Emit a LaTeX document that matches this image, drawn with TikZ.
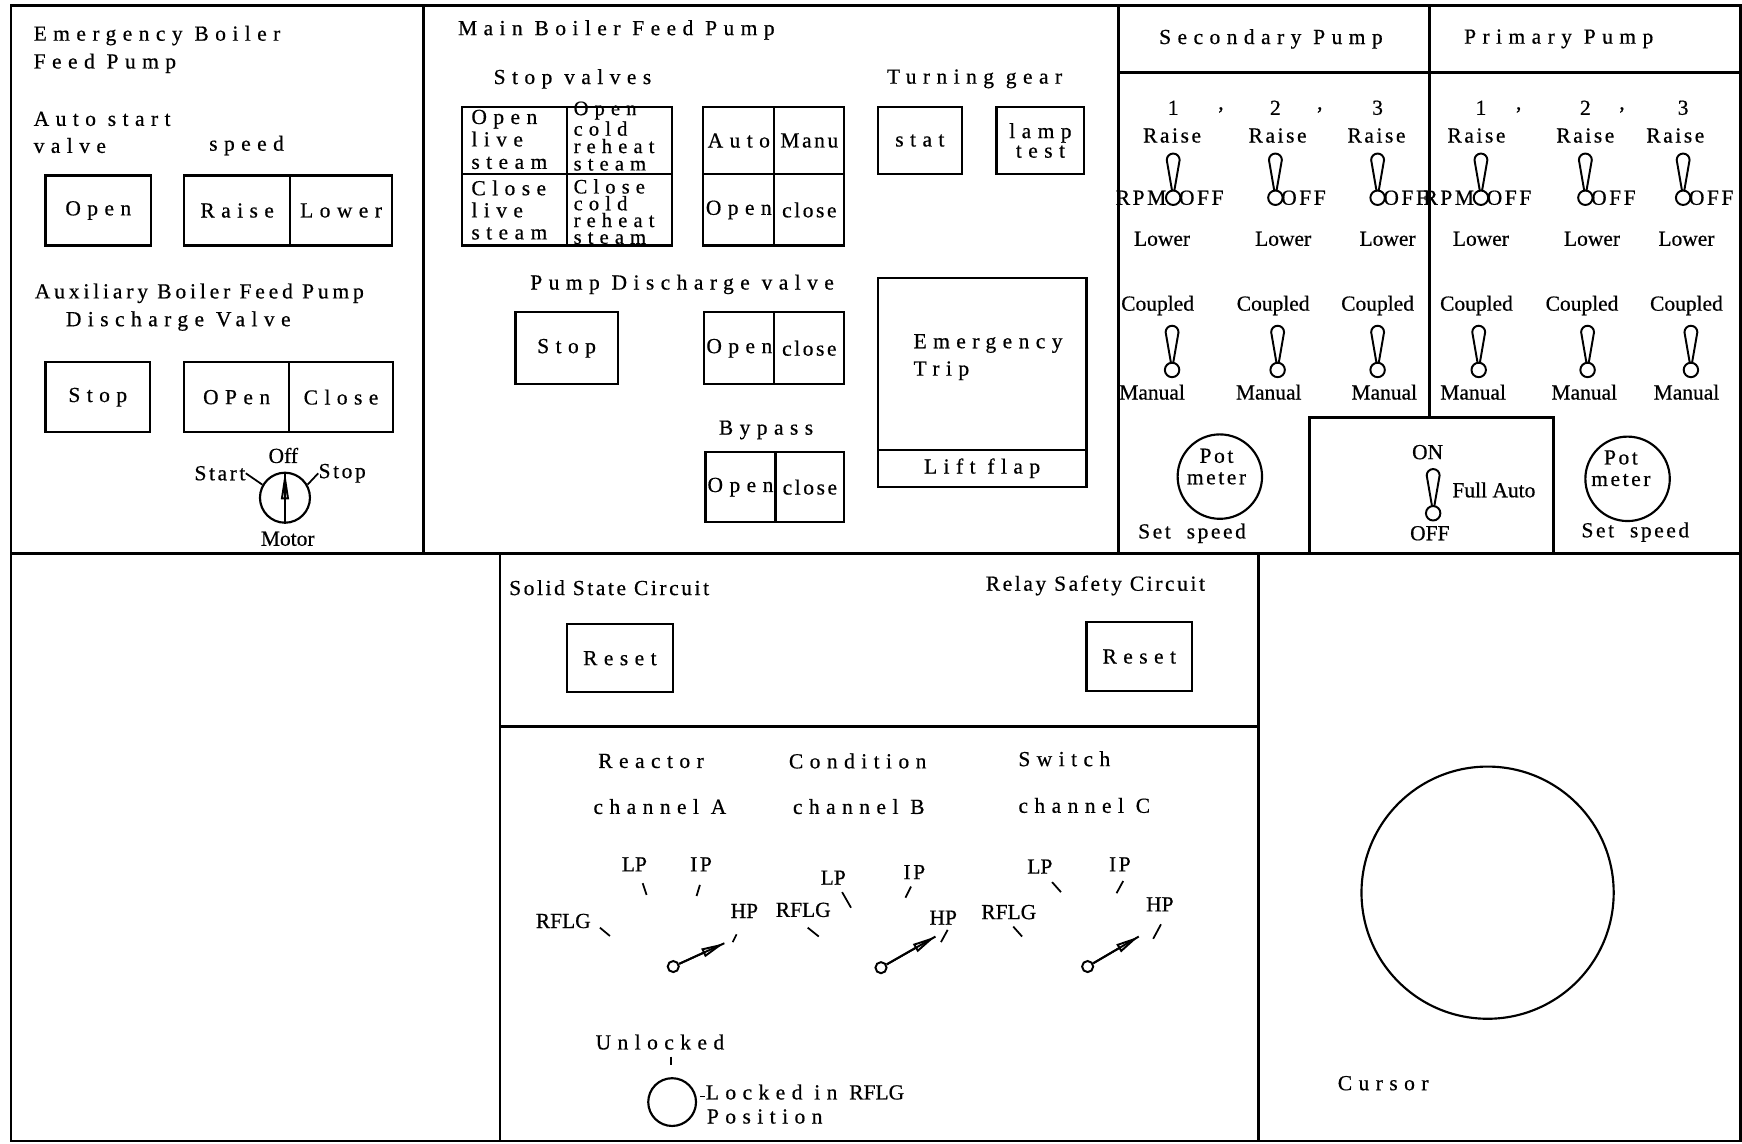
\documentclass[tikz,border=0pt]{standalone}
\usepackage{fontspec}
\setmainfont{Liberation Serif}[FakeBold=0.6]
\newfontfamily\widefont{Liberation Serif}[LetterSpace=30, FakeBold=0.6]
\newfontfamily\semifont{Liberation Serif}[LetterSpace=18, FakeBold=0.6]
\newfontfamily\midfont{Liberation Serif}[LetterSpace=12, FakeBold=0.6]
\usepackage{tikz}
\usetikzlibrary{arrows.meta,positioning}
\newcommand{\fsz}{\fontsize{11}{12}\selectfont}
\tikzset{
  panel/.style={line width=1.4pt},
  btn/.style 2 args={draw, line width=1.1pt, inner sep=0pt, outer sep=0pt, minimum width=#1*0.2mm, minimum height=#2*0.2mm, font=\widefont\fsz},
  wtxt/.style={inner sep=0pt, font=\widefont\fsz},
  mtxt/.style={inner sep=0pt, font=\midfont\fsz},
  ntxt/.style={inner sep=0pt, font=\fsz},
  knob/.style={circle, draw, line width=1.1pt, inner sep=0pt, minimum size=#1*0.2mm},
  tick/.style={line width=0.9pt},
  needle/.style={line width=1pt, -{Triangle[open, length=4.2mm, width=1.6mm]}},
  toggle/.pic={
    \node[knob=13, line width=1pt] (-c) at (0,0) {};
    \draw[line width=1pt] (-1,-6.3) -- (-5.8,-34) arc (180:360:5.8) -- (1,-6.3);
  },
}
\begin{document}
\begin{tikzpicture}[x=0.2mm, y=-0.2mm]
  \useasboundingbox (0,0) rectangle (1568,1029);
  \draw[panel] (10,5) rectangle (1566.5,1027);
  \draw[panel] (10,498) -- (1566.5,498);
  \draw[panel] (381,5) -- (381,498);
  \draw[panel] (1007,5) -- (1007,498);
  \draw[panel] (1007,65) -- (1566.5,65);
  \draw[panel] (1287,5) -- (1287,376);
  \draw[panel] (1179,498) |- (1398,376) -- (1398,498);
  \draw[panel] (450,498) -- (450,1027);
  \draw[panel] (1133,498) -- (1133,1027);
  \draw[panel] (450,654) -- (1133,654);

  % emergency boiler feed pump
  \node[wtxt, anchor=west] (ebt1) at (30,32) {Emergency Boiler};
  \node[wtxt, anchor=west] (ebt2) at (30,57) {Feed Pump};
  \node[wtxt, anchor=west] (ast) at (30,107) {Auto start};
  \node[wtxt, anchor=west] (avt) at (30,131) {valve};
  \node[wtxt, anchor=west] (spt) at (188,131) {speed};
  \node[btn={95}{63}] (eopen) at (88.5,189.5) {Open};
  \node[btn={95}{63}] (eraise) at (213.5,189.5) {Raise};
  \node[btn={92}{63}, right=0pt of eraise] (elower) {Lower};
  \node[inner sep=0pt, font=\semifont\fsz, anchor=west] (abt1) at (31,264) {Auxiliary Boiler Feed Pump};
  \node[wtxt, anchor=west] (abt2) at (59,289) {Discharge Valve};
  \node[btn={94}{63}] (estop) at (88,357.5) {Stop};
  \node[btn={94}{63}] (eopn) at (213,357.5) {OPen};
  \node[btn={94}{63}, right=0pt of eopn] (eclose) {Close};
  \node[knob=45] (motor) at (256.5,448) {};
  \draw[line width=1pt] (motor.south) -- (motor.north);
  \draw[line width=1pt, -{Triangle[open, length=5mm, width=1.4mm]}] (motor.south) -- (motor.north);
  \node[ntxt] (moff) at (255,410) {Off};
  \node[mtxt] (mstart) at (198,426) {Start};
  \node[mtxt] (mstop) at (308,426) {Stop};
  \node[ntxt] (mmot) at (259,485) {Motor};
  \draw[tick] (motor.150) -- (mstart.east);
  \draw[tick] (motor.30) -- (mstop.west);

  % main boiler feed pump
  \node[wtxt, anchor=west] (mbt) at (412,27) {Main Boiler Feed Pump};
  \node[wtxt, anchor=west] (svt) at (444,71) {Stop valves};
  \node[btn={94}{61}] (sv1) at (463,126.5) {};
  \node[btn={95}{61}, right=0pt of sv1] (sv2) {};
  \node[btn={94}{64}, below=0pt of sv1] (sv3) {};
  \node[btn={95}{64}, right=0pt of sv3] (sv4) {};
  \node[wtxt, anchor=west, align=left, font=\widefont\fontsize{11}{11.5}\selectfont] (sv1t) at (424,125.5) {Open\\live\\steam};
  \node[wtxt, anchor=west, align=left, font=\widefont\fontsize{10.5}{8.9}\selectfont] (sv2t) at (516,122.5) {Open\\cold\\reheat\\steam};
  \node[wtxt, anchor=west, align=left, font=\widefont\fontsize{11}{11.3}\selectfont] (sv3t) at (424,189) {Close\\live\\steam};
  \node[wtxt, anchor=west, align=left, font=\widefont\fontsize{10.5}{8.6}\selectfont] (sv4t) at (516,190.5) {Close\\cold\\reheat\\steam};
  \node[btn={64}{61}] (am1) at (665,126.5) {Auto};
  \node[btn={63}{61}, right=0pt of am1, font=\midfont\fsz] (am2) {Manu};
  \node[btn={64}{64}, below=0pt of am1] (am3) {Open};
  \node[btn={63}{64}, right=0pt of am3, font=\midfont\fsz] (am4) {close};
  \node[wtxt, anchor=west] (tgt) at (798,71) {Turning gear};
  \node[btn={76}{61}] (stat) at (828,126.5) {stat};
  \node[btn={79}{61}, align=center, font=\widefont\fontsize{11}{10}\selectfont] (lamp) at (936.5,126.5) {lamp\\test};
  \node[wtxt, anchor=west] (pdt) at (477,256) {Pump Discharge valve};
  \node[btn={92}{65}] (pdstop) at (510,313.5) {Stop};
  \node[btn={63}{65}] (pdopen) at (665.5,313.5) {Open};
  \node[btn={63}{65}, right=0pt of pdopen, font=\midfont\fsz] (pdclose) {close};
  \node[wtxt] (bpt) at (689.5,387) {Bypass};
  \node[btn={63}{63}] (bpopen) at (666.5,438.5) {Open};
  \node[btn={62}{63}, right=0pt of bpopen, font=\midfont\fsz] (bpclose) {close};
  \node[btn={188}{155}] (trip) at (884,327.5) {};
  \node[btn={188}{33}, below=0pt of trip] (flap) {Lift flap};
  \node[wtxt, anchor=west, align=left, font=\widefont\fontsize{11}{14}\selectfont] (tript) at (822,321.5) {Emergency\\Trip};

  % secondary and primary pumps
  \node[wtxt] (secp) at (1144,35) {Secondary Pump};
  \node[wtxt] (prip) at (1403,35) {Primary Pump};
  \foreach \n/\k/\x/\rx/\lx in {s1/1/1056/1055/1046, s2/2/1148/1150/1155, s3/3/1240/1239/1249, p1/1/1333/1329/1333, p2/2/1427/1427/1433, p3/3/1515/1508/1518} {
    \pic (\n r) at (\x,178) {toggle};
    \node[ntxt] (\n num) at (\x,97) {\k};
    \node[mtxt] (\n rai) at (\rx,122) {Raise};
    \node[mtxt, right=-0.5mm of \n r-c] (\n off) {OFF};
    \node[ntxt] (\n low) at (\lx,215) {Lower};
  }
  \foreach \i/\x in {1/1099, 2/1188, 3/1367, 4/1460}
    \node[ntxt] (cm\i) at (\x,99) {,};
  \node[mtxt, left=-0.3mm of s1r-c] (s1rpm) {RPM};
  \node[mtxt, left=-0.3mm of p1r-c] (p1rpm) {RPM};
  \foreach \n/\x/\cx/\mx in {s1/1055/1042/1037, s2/1150/1146/1142, s3/1240/1240/1246, p1/1331/1329/1326, p2/1429/1424/1426, p3/1522/1518/1518} {
    \pic (\n m) at (\x,333) {toggle};
    \node[ntxt] (\n cpl) at (\cx,275) {Coupled};
    \node[ntxt] (\n man) at (\mx,353) {Manual};
  }
  \node[knob=76] (spot) at (1098,429) {};
  \node[mtxt, align=center, font=\midfont\fontsize{11}{11}\selectfont] (spott) at (1095,420) {Pot\\meter};
  \node[mtxt] (sset) at (1073,480) {Set~~speed};
  \node[knob=76] (ppot) at (1465,431) {};
  \node[mtxt, align=center, font=\midfont\fontsize{11}{11}\selectfont] (ppott) at (1459,421.5) {Pot\\meter};
  \node[mtxt] (pset) at (1472,479) {Set~~speed};
  \pic (fa) at (1290,462) {toggle};
  \node[ntxt] (faon) at (1285,407) {ON};
  \node[ntxt, anchor=west] (fat) at (1307,441) {Full Auto};
  \node[ntxt] (faoff) at (1287,480) {OFF};

  % safety circuits
  \node[mtxt, anchor=west] (sst) at (458,529) {Solid State Circuit};
  \node[mtxt, anchor=west] (rst) at (887,527) {Relay Safety Circuit};
  \node[btn={96}{61}] (reset1) at (558,592.5) {Reset};
  \node[btn={95}{62}] (reset2) at (1025.5,591) {Reset};

  % reactor condition switch
  \node[wtxt] (rct) at (586,685) {Reactor};
  \node[wtxt] (cdt) at (772,685) {Condition};
  \node[wtxt] (swt) at (958,683) {Switch};
  \node[wtxt] (cha) at (594,726) {channel A};
  \node[wtxt] (chb) at (773,726) {channel B};
  \node[wtxt] (chc) at (976,725) {channel C};
  \foreach \d/\px/\py/\ax/\ay in {a/606/870/46/-21, b/793/871/49/-28, c/979/870/46/-27} {
    \node[knob=10, line width=1pt] (piv\d) at (\px,\py) {};
    \coordinate (tip\d) at (\px+\ax,\py+\ay);
    \draw[line width=1pt] (piv\d) -- (tip\d);
    \draw[needle] (piv\d) -- (tip\d);
  }
  \foreach \a/\b/\c/\e in {540/835/549/842.5, 578.5/795/582/805.5, 630/796.5/627/806.5, 663/841/659.5/848,
      727/835/737/843, 758/803/766/817, 820/798/815/808, 853/837/847/848,
      912/834/920/843, 947/794/955/803, 1011/793/1005/804, 1045/832/1038/845}
    \draw[tick] (\a,\b) -- (\c,\e);
  \foreach \d/\rx/\ry/\lx/\ly/\ix/\iy/\hx/\hy in {a/507/829/571/778/631/778/670/820, b/723/819/750/790/823/785/849/826, c/908/821/936/780/1008/778/1044/814} {
    \node[ntxt] (rf\d) at (\rx,\ry) {RFLG};
    \node[ntxt] (lp\d) at (\lx,\ly) {LP};
    \node[mtxt] (ip\d) at (\ix,\iy) {IP};
    \node[ntxt] (hp\d) at (\hx,\hy) {HP};
  }
  \node[wtxt] (unl) at (594,938) {Unlocked};
  \node[knob=43] (lock) at (605,992) {};
  \draw[tick] (604,951) -- (604,958.5);
  \draw[tick] (630,987) -- (634.5,987);
  \node[wtxt, anchor=west] (lkt) at (635,983) {Locked in {\fontspec{Liberation Serif}[FakeBold=0.6]RFLG}};
  \node[wtxt, anchor=west] (post) at (636,1005) {Position};

  % cursor
  \node[knob=227] (cursor) at (1339,803.5) {};
  \node[wtxt] (curt) at (1245,975) {Cursor};
\end{tikzpicture}
\end{document}
